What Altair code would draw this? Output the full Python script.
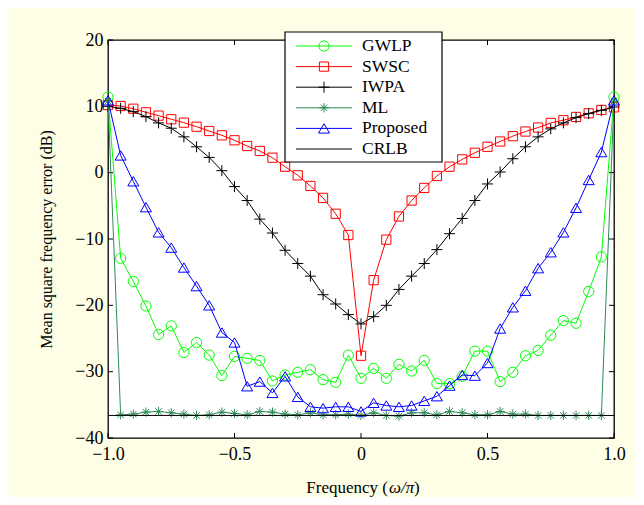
import altair as alt
import pandas as pd

# ---------------- data ----------------
freq = [-1.0, -0.95, -0.9, -0.85, -0.8, -0.75, -0.7, -0.65, -0.6, -0.55,
        -0.5, -0.45, -0.4, -0.35, -0.3, -0.25, -0.2, -0.15, -0.1, -0.05,
        0.0, 0.05, 0.1, 0.15, 0.2, 0.25, 0.3, 0.35, 0.4, 0.45,
        0.5, 0.55, 0.6, 0.65, 0.7, 0.75, 0.8, 0.85, 0.9, 0.95, 1.0]

gwlp = [11.4, -12.9, -16.4, -20.1, -24.4, -23.1, -27.1, -25.6, -27.5, -30.6,
        -27.7, -28.0, -28.3, -31.4, -30.5, -30.1, -29.7, -31.2, -31.6, -27.5,
        -31.0, -29.5, -31.0, -28.9, -29.9, -28.3, -31.8, -31.8, -30.7, -26.9,
        -26.9, -31.5, -30.1, -27.6, -26.8, -24.5, -22.3, -22.7, -17.9, -12.7, 11.4]

swsc = [10.2, 10.05, 9.64, 9.1, 8.6, 8.05, 7.54, 6.93, 6.28, 5.63,
        4.88, 4.02, 3.27, 2.26, 0.9, -0.4, -2.0, -3.8, -6.2, -9.4,
        -27.6, -16.2, -10.1, -6.6, -4.2, -2.3, -0.5, 0.9, 2.0, 3.0,
        3.9, 4.7, 5.5, 6.2, 6.8, 7.5, 7.9, 8.4, 8.95, 9.45, 9.85]

iwpa = [10.0, 9.7, 9.2, 8.45, 7.5, 6.7, 5.4, 3.9, 2.3, 0.3,
        -2.1, -4.2, -7.0, -9.1, -11.7, -13.7, -15.6, -18.4, -19.8, -21.4,
        -22.8, -21.7, -20.0, -17.6, -15.6, -13.7, -11.6, -9.2, -6.9, -4.2,
        -1.7, 0.1, 2.1, 3.9, 5.4, 6.6, 7.5, 8.3, 8.9, 9.4, 9.9]

ml = [10.8, -36.5, -36.4, -36.1, -36.0, -36.2, -36.4, -36.6, -36.5, -36.1,
      -36.3, -36.5, -36.0, -36.1, -36.4, -36.5, -36.2, -36.5, -36.5, -36.4,
      -36.6, -36.2, -36.6, -36.7, -36.2, -36.2, -36.5, -36.0, -36.2, -36.5,
      -36.5, -36.0, -36.4, -36.4, -36.6, -36.6, -36.6, -36.6, -36.6, -36.6, 10.8]

proposed = [10.9, 2.6, -1.3, -5.2, -9.0, -11.3, -14.3, -17.1, -20.0, -24.1,
            -25.6, -32.2, -31.5, -33.2, -30.7, -33.8, -35.3, -35.5, -35.3, -35.3,
            -36.0, -34.7, -35.1, -35.3, -35.1, -34.4, -33.7, -32.1, -30.5, -30.6,
            -28.7, -23.5, -20.3, -17.8, -14.4, -12.0, -9.0, -5.3, -1.1, 3.1, 10.9]

crlb = [-36.6, -36.6, -36.6, -36.6, -36.6, -36.6, -36.6, -36.6, -36.6, -36.6,
        -36.6, -36.6, -36.6, -36.6, -36.6, -36.6, -36.6, -36.6, -36.6, -36.6,
        -36.6, -36.6, -36.6, -36.6, -36.6, -36.6, -36.6, -36.6, -36.6, -36.6,
        -36.6, -36.6, -36.6, -36.6, -36.6, -36.6, -36.6, -36.6, -36.6, -36.6, -36.6]

series_names = ["GWLP", "SWSC", "IWPA", "ML", "Proposed", "CRLB"]
series_values = [gwlp, swsc, iwpa, ml, proposed, crlb]

x_ticks = [-1.0, -0.5, 0.0, 0.5, 1.0]
y_ticks = [-40, -30, -20, -10, 0, 10, 20]

x_title_parts = ["Frequency (", "\u03c9/\u03c0", ")"]
y_title = "Mean square frequency error (dB)"

# ---------------- styling ----------------
PLUS = "M-1,0L1,0M0,-1L0,1"
STAR = "M-1,0L1,0M0,-1L0,1M-0.7,-0.7L0.7,0.7M-0.7,0.7L0.7,-0.7"
TRI = "M0,-0.85L1,0.85L-1,0.85Z"

series_colors = ["#00FF00", "#FF0000", "#000000", "#2E8B57", "#0000FF", "#000000"]
series_shapes = ["circle", "square", PLUS, STAR, TRI, None]
series_sizes = [105, 85, 121, 85, 121, None]

FONT = "Liberation Serif"
W, H = 506, 398

x_scale = alt.Scale(domain=[-1, 1], nice=False, zero=False)
y_scale = alt.Scale(domain=[-40, 20], nice=False, zero=False)

x_axis = alt.Axis(values=x_ticks, title="", ticks=False, domain=False,
                  grid=False, labelPadding=7, labelFlush=False,
                  labelFont=FONT, labelFontSize=18, labelColor="black",
                  labelExpr="datum.value == 0 ? '0' : replace(format(datum.value, '.1f'), '-', '\u2212')")
y_axis = alt.Axis(values=y_ticks, title=y_title, ticks=False, domain=False,
                  grid=False, labelPadding=5, titlePadding=20, labelFlush=False,
                  labelFont=FONT, labelFontSize=18, titleFont=FONT, titleFontSize=16,
                  titleFontWeight="normal", labelColor="black", titleColor="black",
                  labelExpr="replace(format(datum.value, 'd'), '-', '\u2212')")


def X(field):
    return alt.X(field, scale=x_scale, axis=x_axis)


def Y(field):
    return alt.Y(field, scale=y_scale, axis=y_axis)


layers = []

# tick marks pointing inward on all four sides
xt = pd.DataFrame({"t": x_ticks})
yt = pd.DataFrame({"t": y_ticks})
TL = 5
layers.append(alt.Chart(xt).mark_rule(color="black", strokeWidth=1).encode(
    x=X("t:Q"), y=alt.value(H), y2=alt.value(H - TL)))
layers.append(alt.Chart(xt).mark_rule(color="black", strokeWidth=1).encode(
    x=X("t:Q"), y=alt.value(0), y2=alt.value(TL)))
layers.append(alt.Chart(yt).mark_rule(color="black", strokeWidth=1).encode(
    y=Y("t:Q"), x=alt.value(0), x2=alt.value(TL)))
layers.append(alt.Chart(yt).mark_rule(color="black", strokeWidth=1).encode(
    y=Y("t:Q"), x=alt.value(W), x2=alt.value(W - TL)))

# data series
for name, vals, color, shape, size in zip(series_names, series_values, series_colors,
                                          series_shapes, series_sizes):
    df = pd.DataFrame({"f": freq, "v": vals})
    layers.append(alt.Chart(df).mark_line(color=color, strokeWidth=1).encode(
        x=X("f:Q"), y=Y("v:Q")))
    if shape is not None:
        layers.append(alt.Chart(df).mark_point(shape=shape, size=size, filled=False, color=color,
                                               strokeWidth=1, opacity=1).encode(
            x=X("f:Q"), y=Y("v:Q")))

dummy = alt.InlineData(values=[{"d": 1}])

# x-axis title with italic omega/pi
TX0 = 280      # end of "Frequency (" in plot pixels
TY = H + 55    # baseline
layers.append(alt.Chart(dummy).mark_text(align="right", baseline="alphabetic", font=FONT,
                                         fontSize=17, color="black").encode(
    x=alt.value(TX0), y=alt.value(TY), text=alt.value(x_title_parts[0])))
layers.append(alt.Chart(dummy).mark_text(align="left", baseline="alphabetic", font=FONT,
                                         fontSize=17, fontStyle="italic", color="black").encode(
    x=alt.value(TX0 + 1), y=alt.value(TY), text=alt.value(x_title_parts[1])))
layers.append(alt.Chart(dummy).mark_text(align="left", baseline="alphabetic", font=FONT,
                                         fontSize=17, color="black").encode(
    x=alt.value(TX0 + 26), y=alt.value(TY), text=alt.value(x_title_parts[2])))

# legend box (drawn manually so each entry shows line + marker)
layers.append(alt.Chart(dummy).mark_rect(fill="white", stroke="black", strokeWidth=1.2).encode(
    x=alt.value(177), x2=alt.value(334), y=alt.value(-8), y2=alt.value(122)))
for i, (name, color, shape, size) in enumerate(zip(series_names, series_colors,
                                                   series_shapes, series_sizes)):
    ly = 6 + 20.6 * i
    layers.append(alt.Chart(dummy).mark_rule(color=color, strokeWidth=1).encode(
        x=alt.value(188), x2=alt.value(244), y=alt.value(ly)))
    if shape is not None:
        layers.append(alt.Chart(dummy).mark_point(shape=shape, size=size, filled=False, color=color,
                                                  strokeWidth=1, opacity=1).encode(
            x=alt.value(216), y=alt.value(ly)))
    layers.append(alt.Chart(dummy).mark_text(align="left", baseline="middle", font=FONT,
                                             fontSize=17.5, color="black").encode(
        x=alt.value(254), y=alt.value(ly), text=alt.value(name)))

chart = alt.layer(*layers).properties(
    width=W, height=H,
    padding={"left": 100, "top": 32, "right": 22, "bottom": 59},
    autosize=alt.AutoSizeParams(type="none"),
).configure(
    background="#FEFEE6", font=FONT
).configure_view(
    stroke="black", strokeWidth=1.3, fill="white"
)

chart.save("out.html", embed_options={"renderer": "svg", "actions": False})
